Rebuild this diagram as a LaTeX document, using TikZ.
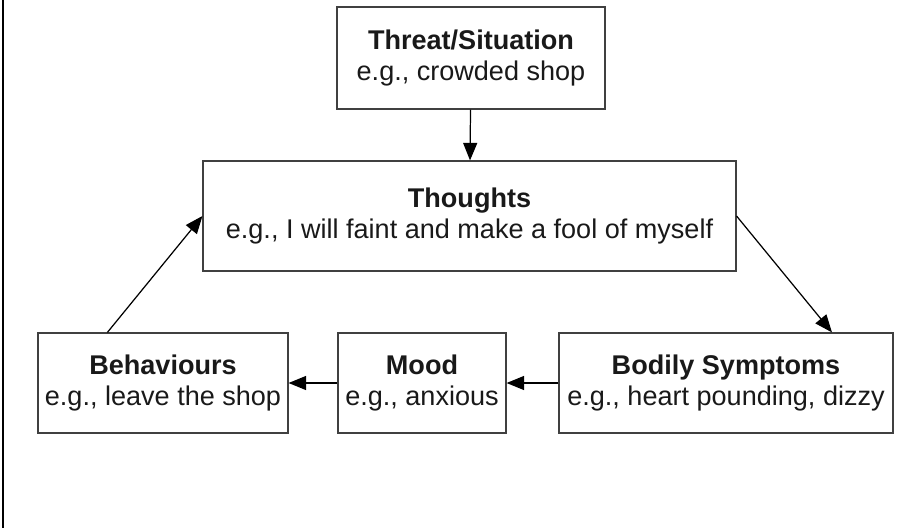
\documentclass[tikz,border=0pt]{standalone}
\usepackage{fontspec}
\setmainfont{Liberation Sans}
\usetikzlibrary{arrows.meta}
\begin{document}
\begin{tikzpicture}[x=0.02cm, y=-0.02cm, >={Triangle[length=10pt, width=8pt]},
  box/.style={rectangle, draw=black!75, line width=0.7pt, inner sep=0pt, align=center,
    font=\fontsize{15.4}{17.6}\selectfont, text=black!90}]
\useasboundingbox (0, 0) rectangle (921, 528);
\draw[line width=1.2pt] (3, 0) -- (3, 528);

\node[box, minimum width=5.36cm, minimum height=2.04cm] (threat) at (471, 58) {\textbf{Threat/Situation}\\e.g., crowded shop};
\node[box, minimum width=10.66cm, minimum height=2.2cm] (thoughts) at (469.5, 216) {\textbf{Thoughts}\\e.g., I will faint and make a fool of myself};
\node[box, minimum width=5cm, minimum height=2cm] (behaviours) at (163, 383) {\textbf{Behaviours}\\e.g., leave the shop};
\node[box, minimum width=3.36cm, minimum height=2cm] (mood) at (422, 383) {\textbf{Mood}\\e.g., anxious};
\node[box, minimum width=6.68cm, minimum height=2cm] (bodily) at (726, 383) {\textbf{Bodily Symptoms}\\e.g., heart pounding, dizzy};

\draw[->, line width=0.7pt] (threat) to (thoughts);
\draw[->, line width=0.7pt] (thoughts.east) to ([xshift=2.12cm]bodily.north);
\draw[->, line width=0.7pt] (bodily) to (mood);
\draw[->, line width=0.7pt] (mood) to (behaviours);
\draw[->, line width=0.7pt] ([xshift=1.4cm]behaviours.north west) to (thoughts.west);
\end{tikzpicture}
\end{document}
